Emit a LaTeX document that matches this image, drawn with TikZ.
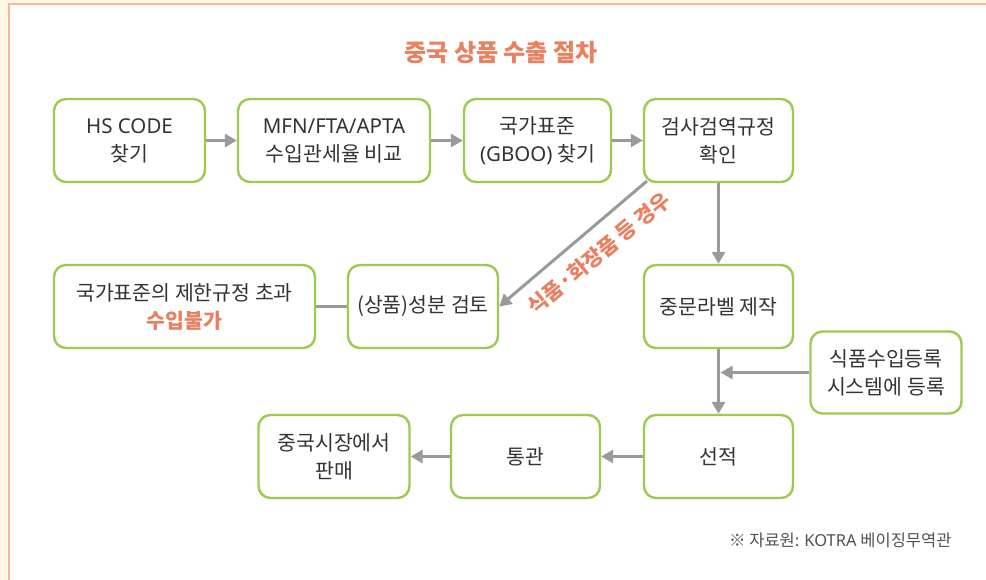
\documentclass[tikz,border=0pt]{standalone}
\usepackage{fontspec}
\setmainfont{Noto Sans CJK KR}
\newfontfamily\latinfont{Noto Sans}
\usetikzlibrary{arrows.meta}
\definecolor{cream}{HTML}{FFF9E4}
\definecolor{salmon}{HTML}{F8B79E}
\definecolor{boxgreen}{HTML}{9CCB52}
\definecolor{arrowgray}{HTML}{9A9A9C}
\definecolor{txt}{HTML}{333333}
\definecolor{orange}{HTML}{E9805F}
\newcommand{\lat}[1]{{\latinfont #1}}
\tikzset{
  stepbox/.style={draw=boxgreen, line width=2.4pt, rounded corners=12pt, fill=white,
    align=center, text=txt, font=\fontsize{20.5}{28}\selectfont, inner sep=0pt},
  flow/.style={draw=arrowgray, line width=3pt, -{Triangle[length=12pt,width=13pt]}},
  plain/.style={draw=arrowgray, line width=3pt},
}
\begin{document}
\begin{tikzpicture}[x=1pt,y=-1pt]
\useasboundingbox (0,0) rectangle (986,580);
\fill[cream] (0,0) rectangle (986,580);
\fill[white] (9,4.5) rectangle (986,580);
\draw[salmon, line width=2pt] (9,580) -- (9,4.5) -- (986,4.5);

\node[font=\fontsize{24}{28}\selectfont\bfseries, text=orange] (title) at (501,53) {중국 상품 수출 절차};

% row 1
\node[stepbox, minimum width=151pt, minimum height=83pt] (hs) at (129.5,140.5) {\lat{HS CODE}\\찾기};
\node[stepbox, minimum width=192pt, minimum height=83pt] (mfn) at (334,140.5) {\lat{MFN/FTA/APTA}\\수입관세율 비교};
\node[stepbox, minimum width=147pt, minimum height=83pt] (gb) at (537.5,140.5) {국가표준\\\lat{(GBOO)} 찾기};
\node[stepbox, minimum width=149pt, minimum height=83pt] (insp) at (718.5,140.5) {검사검역규정\\확인};

% row 2
\node[stepbox, minimum width=261pt, minimum height=83pt] (limit) at (184.5,306.5) {국가표준의 제한규정 초과\\{\color{orange}\bfseries 수입불가}};
\node[stepbox, minimum width=150pt, minimum height=83pt] (comp) at (423,306.5) {(상품)성분 검토};
\node[stepbox, minimum width=149pt, minimum height=83pt] (label) at (718.5,306.5) {중문라벨 제작};
\node[stepbox, minimum width=151pt, minimum height=82pt] (reg) at (886,372.5) {식품수입등록\\시스템에 등록};

% row 3
\node[stepbox, minimum width=151pt, minimum height=83pt] (sell) at (334,456.5) {중국시장에서\\판매};
\node[stepbox, minimum width=149pt, minimum height=83pt] (cust) at (525.5,456.5) {통관};
\node[stepbox, minimum width=149pt, minimum height=83pt] (ship) at (718.5,456.5) {선적};

% connectors
\draw[flow] (hs) -- (mfn);
\draw[flow] (mfn) -- (gb);
\draw[flow] (gb) -- (insp);
\draw[flow] (insp) -- (label);
\draw[flow] (label) -- (ship);
\coordinate (join) at (718.5,372.5);
\draw[flow] (reg.west) -- ([xshift=2pt]join);
\draw[flow] (ship) -- (cust);
\draw[flow] (cust) -- (sell);
\draw[plain] (limit) -- (comp);
\coordinate (dstart) at (647,181);
\draw[flow] (dstart) -- (comp.east);
\node[rotate=39.5, text=orange, font=\fontsize{21}{24}\selectfont\bfseries] (lbl) at (599,253) {식품·화장품 등 경우};

\node[anchor=east, text=txt!85, font=\fontsize{16.5}{20}\selectfont] (src) at (955,540) {※ 자료원: \lat{KOTRA} 베이징무역관};
\end{tikzpicture}
\end{document}
